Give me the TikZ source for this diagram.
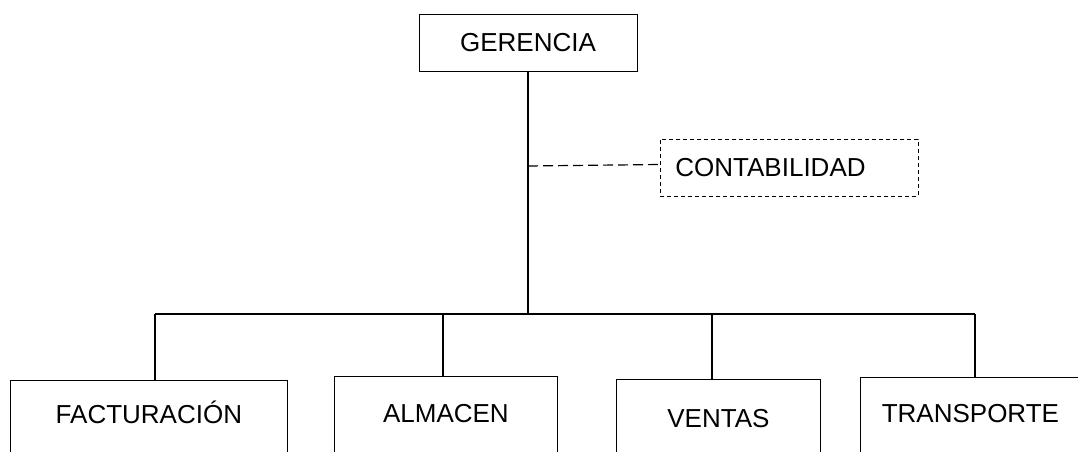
\documentclass[tikz,border=0pt]{standalone}
\usepackage{fontspec}
\setmainfont{Liberation Sans}
\usetikzlibrary{positioning}

\begin{document}
\begin{tikzpicture}[x=1pt,y=-1pt,font=\fontsize{26}{30}\selectfont,
        box/.style={draw,line width=0.8pt,minimum height=57pt,inner sep=0pt},
        unit/.style={draw,line width=0.8pt,anchor=north west,inner sep=0pt,text depth=60pt},
        link/.style={line width=1.5pt}]
            \useasboundingbox (0,0) rectangle (1078,452);
            \node[box, minimum width=218pt] (ger) at (528,42.5) {GERENCIA};
            \node[box, dashed, dash pattern=on 4pt off 3pt, anchor=west, text width=228pt,
                  align=left, inner xsep=15pt] (cont) at (660,167.5) {CONTABILIDAD};
            \node[unit, minimum width=277pt, text height=43pt] (fac) at (10,380) {FACTURACIÓN};
            \node[unit, minimum width=223pt, text height=46pt] (alm) at (334,376) {ALMACEN};
            \node[unit, minimum width=204pt, text height=48pt] (ven) at (616,379) {VENTAS};
            \node[unit, minimum width=220pt, text height=45pt] (tra) at (860,377) {TRANSPORTE};
            % bus
            \coordinate (b1) at (155,314);
            \coordinate (b2) at (443,314);
            \coordinate (b3) at (712,314);
            \coordinate (b4) at (975,314);
            \coordinate (tap) at (528,166);
            \draw[link] (ger.south) -- (ger.south |- b1);
            \draw[link] (b1) -- (b4);
            \draw[link] (b1) -- (b1 |- fac.north);
            \draw[link] (b2) -- (b2 |- alm.north);
            \draw[link] (b3) -- (b3 |- ven.north);
            \draw[link] (b4) -- (b4 |- tra.north);
            \draw[link, line width=1.2pt, dash pattern=on 10pt off 5pt] (tap) -- ([yshift=3pt]cont.west);
\end{tikzpicture}
\end{document}
